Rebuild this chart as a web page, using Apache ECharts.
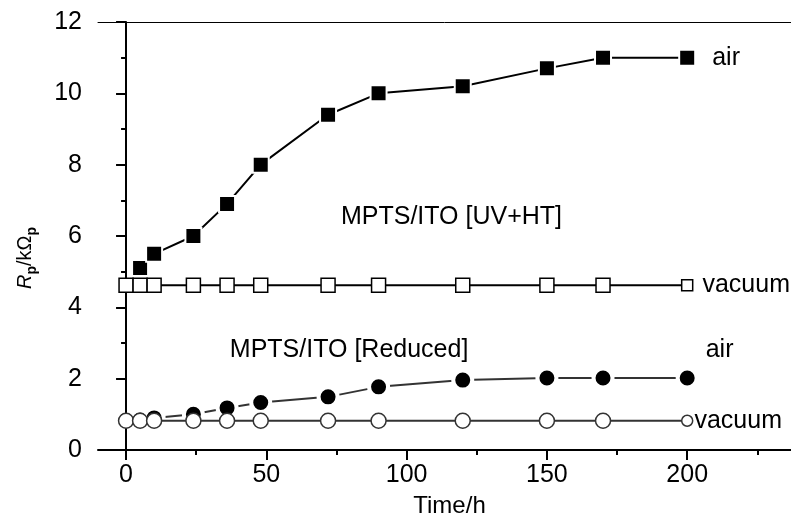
<!DOCTYPE html>
<html>
<head>
<meta charset="utf-8">
<script src="https://cdn.jsdelivr.net/npm/echarts@6/dist/echarts.min.js"></script>
<style>
  html, body { margin: 0; padding: 0; background: #fff; }
  #chart { width: 791px; height: 517px; }
</style>
</head>
<body>
<div id="chart"></div>
<script>
// 数据
const timeAir = [5, 10, 24, 36, 48, 72, 90, 120, 150, 170, 200];
const timeVac = [0, 5, 10, 24, 36, 48, 72, 90, 120, 150, 170, 200];
const uvAir = [5.1, 5.5, 6.0, 6.9, 8.0, 9.4, 10.0, 10.2, 10.7, 11.0, 11.0];
const uvVac = [4.62, 4.62, 4.62, 4.62, 4.62, 4.62, 4.62, 4.62, 4.62, 4.62, 4.62, 4.62];
const redAir = [0.84, 0.9, 1.0, 1.18, 1.33, 1.49, 1.77, 1.96, 2.02, 2.02, 2.02];
const redVac = [0.82, 0.82, 0.82, 0.82, 0.82, 0.82, 0.82, 0.82, 0.82, 0.82, 0.82, 0.82];

const xMajorTicks = [0, 50, 100, 150, 200];
const xMinorTicks = [25, 75, 125, 175, 225];

const noteText = ['MPTS/ITO [UV+HT]', 'MPTS/ITO [Reduced]'];
const noteX = [116, 79.5];
const noteY = [6.52, 2.8];

const FONT = '"Liberation Sans", Arial, sans-serif';

function pairs(xs, ys) { return xs.map((x, i) => [x, ys[i]]); }

// 只在最后一个点显示标签
function endLabel(text, last, extra) {
    return Object.assign({
        show: true,
        position: 'right',
        fontFamily: FONT,
        fontSize: 25,
        color: '#000',
        formatter: p => (p.dataIndex === last ? text : '')
    }, extra || {});
}

const chart = echarts.init(document.getElementById('chart'), null, { renderer: 'canvas' });

const option = {
    animation: false,
    backgroundColor: '#fff',
    grid: { left: 98, right: 0, top: 22, bottom: 67, outerBoundsMode: 'none', containLabel: false },
    xAxis: [
        {
            type: 'value', min: -10, max: 237, position: 'bottom',
            name: 'Time/h', nameLocation: 'middle', nameGap: 44,
            nameTextStyle: { fontFamily: FONT, fontSize: 24, color: '#000', padding: [0, 0, 0, 10] },
            axisLine: { lineStyle: { color: '#000', width: 2 } },
            axisTick: { customValues: xMajorTicks, length: 10, lineStyle: { color: '#000', width: 2 } },
            axisLabel: { customValues: xMajorTicks, margin: 13, fontFamily: FONT, fontSize: 25, color: '#000' },
            splitLine: { show: false }
        },
        {
            type: 'value', min: -10, max: 237, position: 'bottom',
            axisLine: { show: false },
            axisTick: { customValues: xMinorTicks, length: 5, lineStyle: { color: '#000', width: 2 } },
            axisLabel: { show: false },
            splitLine: { show: false }
        },
        {
            type: 'value', min: -10, max: 237, position: 'top',
            axisLine: { lineStyle: { color: '#000', width: 1 } },
            axisTick: { show: false },
            axisLabel: { show: false },
            splitLine: { show: false }
        }
    ],
    yAxis: {
        type: 'value', min: 0, max: 12, interval: 2,
        axisLine: { show: true, lineStyle: { color: '#000', width: 2 } },
        axisTick: { show: true, length: 10, lineStyle: { color: '#000', width: 2 } },
        minorTick: { show: true, splitNumber: 2, length: 5, lineStyle: { color: '#000', width: 2 } },
        axisLabel: { margin: 16, fontFamily: FONT, fontSize: 25, color: '#000' },
        splitLine: { show: false }
    },
    graphic: [{
        type: 'text', x: 25, y: 258, rotation: Math.PI / 2,
        style: {
            text: '{i|R}{s|p}{n|/kΩ}{s|p}',
            align: 'center', verticalAlign: 'middle',
            rich: {
                i: { fontFamily: FONT, fontSize: 20, fontStyle: 'italic', fill: '#000' },
                n: { fontFamily: FONT, fontSize: 20, fill: '#000' },
                s: { fontFamily: FONT, fontSize: 14, fontWeight: 'bold', fill: '#000', padding: [14, 0, 0, 0] }
            }
        }
    }],
    series: [
        {
            name: 'UV air', type: 'line', z: 2,
            data: pairs(timeAir, uvAir),
            symbol: 'rect', symbolSize: 16,
            itemStyle: { color: '#000', borderColor: '#fff', borderWidth: 2 },
            lineStyle: { color: '#000', width: 2 },
            label: endLabel('air', uvAir.length - 1, { distance: 16 }),
            markPoint: {
                symbol: 'circle', symbolSize: 0,
                label: { show: true, position: 'inside', formatter: '{b}', fontFamily: FONT, fontSize: 25, color: '#000' },
                data: noteText.map((t, i) => ({ name: t, coord: [noteX[i], noteY[i]] }))
            }
        },
        {
            name: 'UV vacuum', type: 'line', z: 3,
            data: pairs(timeVac, uvVac),
            symbol: 'rect',
            symbolSize: (v, p) => (p.dataIndex === uvVac.length - 1 ? 11 : 14),
            itemStyle: { color: '#fff', borderColor: '#000', borderWidth: 1.5 },
            lineStyle: { color: '#000', width: 2 },
            label: endLabel('vacuum', uvVac.length - 1, { distance: 9 })
        },
        {
            name: 'Reduced air', type: 'line', z: 2,
            data: pairs(timeAir, redAir),
            symbol: 'circle', symbolSize: 19,
            itemStyle: { color: '#000', borderColor: '#fff', borderWidth: 4 },
            lineStyle: { color: '#333', width: 2 },
            label: endLabel('air', redAir.length - 1, { distance: 7, offset: [0, -28] })
        },
        {
            name: 'Reduced vacuum', type: 'line', z: 3,
            data: pairs(timeVac, redVac),
            symbol: 'circle',
            symbolSize: (v, p) => (p.dataIndex === redVac.length - 1 ? 11 : 15),
            itemStyle: { color: '#fff', borderColor: '#333', borderWidth: 1.5 },
            lineStyle: { color: '#333', width: 2 },
            label: endLabel('vacuum', redVac.length - 1, { distance: 1 })
        }
    ]
};

chart.setOption(option);
window.addEventListener('resize', () => chart.resize());
</script>
</body>
</html>
